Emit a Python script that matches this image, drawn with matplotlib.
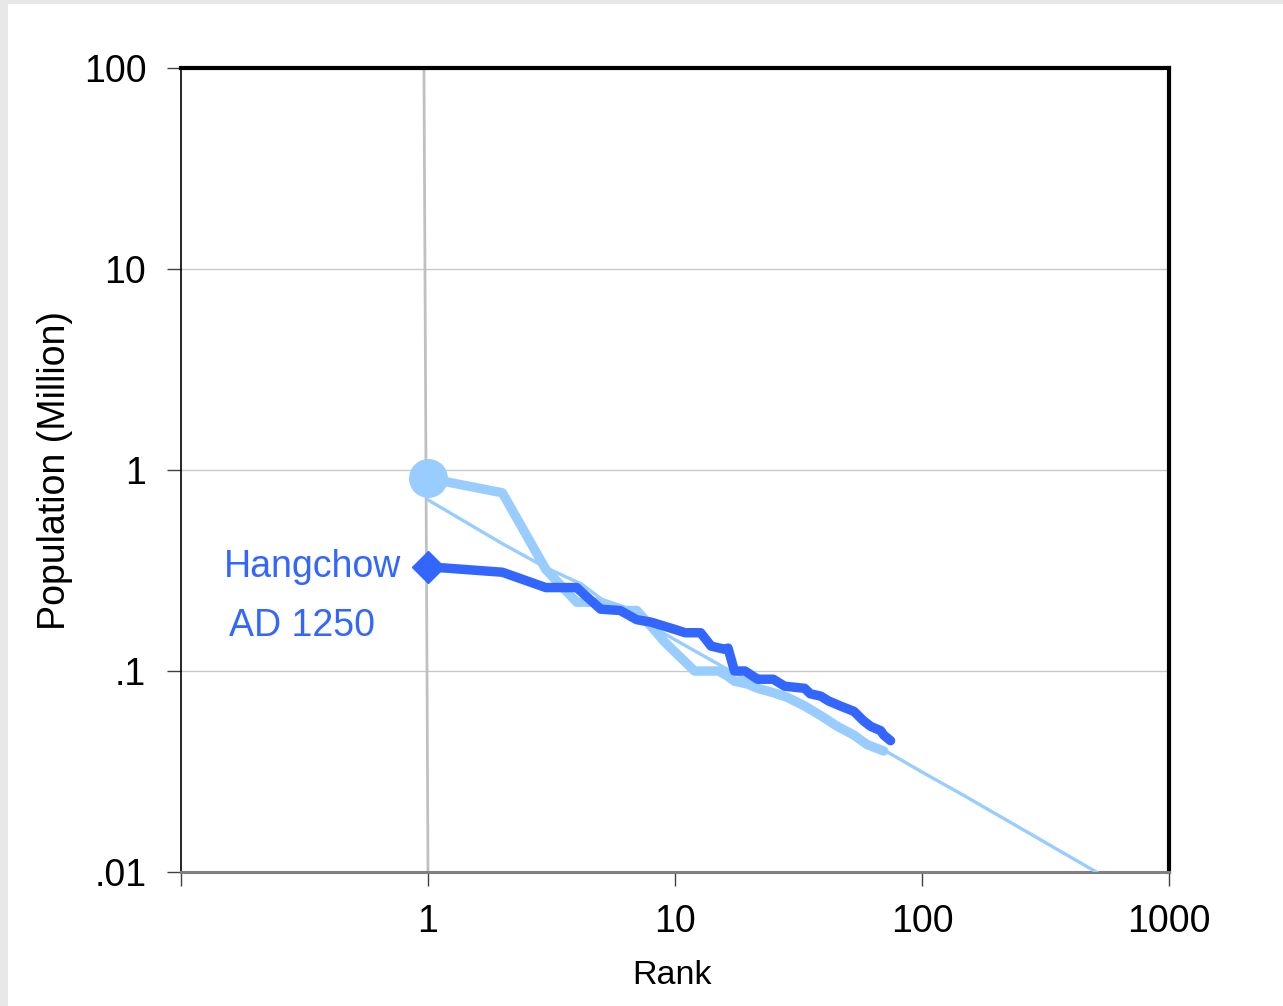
import matplotlib
matplotlib.use("Agg")
import matplotlib.pyplot as plt
from matplotlib.patches import Rectangle

plt.rcParams['font.family'] = ['Liberation Sans', 'DejaVu Sans']

# Hangchow AD 1250 (dark series)
dark_rank = [1, 2, 3, 4, 5, 6, 7, 8, 10, 11, 12.7, 14, 16, 16.4, 17.4, 19.2, 21.6, 25, 27.8,
             33.5, 35.3, 38.9, 41.8, 46.7, 53, 58, 62, 68, 70, 74.6]
dark_pop = [0.33, 0.31, 0.26, 0.26, 0.203, 0.20, 0.18, 0.175, 0.161, 0.155, 0.155, 0.133, 0.128,
            0.13, 0.10, 0.10, 0.091, 0.091, 0.084, 0.082, 0.077, 0.075, 0.071, 0.067, 0.063,
            0.0565, 0.053, 0.0505, 0.048, 0.045]

# light series (thick)
light_rank = [1, 2, 3, 4, 5, 6.3, 7, 8, 9.1, 12, 15, 16.4, 17.4, 19.7, 21.6, 25, 28.5, 33.5,
              38.9, 45.5, 53, 60, 70]
light_pop = [0.91, 0.77, 0.32, 0.22, 0.22, 0.20, 0.20, 0.167, 0.139, 0.10, 0.10, 0.094, 0.089,
             0.086, 0.082, 0.078, 0.074, 0.067, 0.060, 0.053, 0.048, 0.043, 0.040]

# light series (thin reference curve)
thin_rank = [1, 2, 3, 4.2, 5.5, 8, 17, 72, 102, 148, 508]
thin_pop = [0.71, 0.43, 0.327, 0.27, 0.21, 0.167, 0.099, 0.0397, 0.031, 0.024, 0.0100]

# vertical reference line near rank 1
ref_x = [0.963, 1.0]
ref_y = [100, 0.01]

x_ticks = [0.1, 1, 10, 100, 1000]
x_labels = ['', '1', '10', '100', '1000']
y_ticks = [0.01, 0.1, 1, 10, 100]
y_labels = ['.01', '.1', '1', '10', '100']

DARK = '#3366FF'
LIGHT = '#99CCFF'

fig = plt.figure(figsize=(12.83, 10.06), dpi=100, facecolor='#E8E8E8')
fig.patches.append(Rectangle((8 / 1283, 0), 1 - 8 / 1283, 1 - 4 / 1006,
                             transform=fig.transFigure, facecolor='white',
                             edgecolor='none', zorder=-10))

ax = fig.add_axes([181 / 1283, 1 - 872 / 1006, (1169 - 181) / 1283, (872 - 68) / 1006])
ax.set_zorder(5)
ax.set_facecolor('white')
ax.set_xscale('log')
ax.set_yscale('log')
ax.set_xlim(0.1, 1000)
ax.set_ylim(0.01, 100)

for yv in [0.1, 1, 10]:
    ax.axhline(yv, color='#C8C8C8', lw=1.0, zorder=1)

ax.plot(ref_x, ref_y, color='#C0C0C0', lw=2.0, zorder=2, clip_on=True)

ax.plot(light_rank, light_pop, color=LIGHT, lw=6.8, solid_capstyle='round',
        solid_joinstyle='round', zorder=3)
ax.plot(light_rank[:1], light_pop[:1], 'o', color=LIGHT, markersize=27, zorder=3)
ax.plot(thin_rank, thin_pop, color=LIGHT, lw=2.4, zorder=4)
ax.plot(dark_rank, dark_pop, color=DARK, lw=6.8, solid_capstyle='round',
        solid_joinstyle='round', zorder=5)
ax.plot(dark_rank[:1], dark_pop[:1], 'D', color=DARK, markersize=16.5, zorder=5)

ax.text(0.34, 0.33, 'Hangchow', color=DARK, fontsize=27, ha='center', va='center')
ax.text(0.31, 0.168, 'AD 1250', color=DARK, fontsize=27, ha='center', va='center')

ax.set_xticks(x_ticks)
ax.set_xticklabels(x_labels)
ax.set_yticks(y_ticks)
ax.set_yticklabels(y_labels)
ax.minorticks_off()
ax.tick_params(axis='both', direction='out', length=10, width=1, color='#404040',
               labelsize=27)
ax.tick_params(axis='x', pad=13)
ax.tick_params(axis='y', pad=15)

ax.spines['top'].set_linewidth(3)
ax.spines['right'].set_linewidth(3)
ax.spines['top'].set_color('black')
ax.spines['right'].set_color('black')
ax.spines['left'].set_linewidth(1.2)
ax.spines['left'].set_color('black')
ax.spines['bottom'].set_linewidth(2.2)
ax.spines['bottom'].set_color('#808080')

fig.text(672 / 1283, 1 - 975 / 1006, 'Rank', fontsize=24.5, ha='center', va='center')
fig.text(55 / 1283, 1 - 471 / 1006, 'Population (Million)', fontsize=27,
         ha='center', va='center', rotation=90)

fig.savefig('out.png', dpi=100, facecolor=fig.get_facecolor())
